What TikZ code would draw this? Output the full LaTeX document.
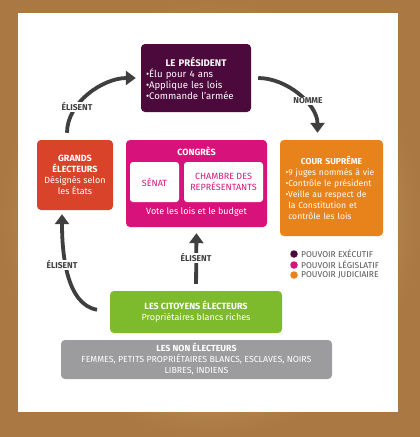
\documentclass[tikz,border=0pt]{standalone}
\usepackage{fontspec}
\setmainfont{Fira Sans}
\usetikzlibrary{arrows.meta}

\definecolor{parchlight}{RGB}{226,196,140}
\definecolor{parchdark}{RGB}{170,120,66}
\definecolor{presidentcol}{RGB}{75,10,59}
\definecolor{grandscol}{RGB}{216,67,42}
\definecolor{congrescol}{RGB}{215,19,123}
\definecolor{courcol}{RGB}{232,130,27}
\definecolor{citoyenscol}{RGB}{125,187,45}
\definecolor{noncol}{RGB}{156,156,158}
\definecolor{arrowcol}{RGB}{63,63,63}
\definecolor{legtxtcol}{RGB}{85,85,85}

\begin{document}
\begin{tikzpicture}[x=1pt,y=-1pt,
  box/.style={rounded corners=4pt, text=white, inner sep=0pt, align=center,
    font=\fontsize{9}{11}\selectfont},
  innerbox/.style={rounded corners=3pt, fill=white, text=congrescol, inner sep=0pt,
    align=center, font=\fontsize{9}{11}\selectfont},
  arr/.style={draw=arrowcol, line width=3.8pt, -{Triangle[width=14pt,length=10pt]}},
  lbl/.style={fill=white, text=arrowcol, inner sep=1pt,
    font=\fontsize{8.5}{9}\selectfont\bfseries},
  dot/.style={circle, fill=#1, minimum size=7.5pt, inner sep=0pt},
  legtxt/.style={anchor=west, text=legtxtcol, inner sep=1pt,
    font=\fontsize{8.5}{9}\selectfont}]
\useasboundingbox (0,0) rectangle (420,437);
%parchment and white sheet
\shade[inner color=parchlight, outer color=parchdark] (0,0) rectangle (420,437);
\fill[white] (18,13) rectangle (398,412);
%executive
\node[box, fill=presidentcol, minimum width=110pt, minimum height=68pt,
  text width=100pt, align=left, font=\fontsize{9.6}{11}\selectfont] (pres) at (196,78)
  {\centering\textbf{LE PRÉSIDENT}\par\raggedright
   •Élu pour 4 ans\\•Applique les lois\\•Commande l’armée};
\node[box, fill=grandscol, minimum width=76pt, minimum height=70pt] (grands) at (75,175)
  {\textbf{GRANDS}\\\textbf{ÉLECTEURS}\\Désignés selon\\les États};
%legislative
\node[box, fill=congrescol, minimum width=141pt, minimum height=87pt] (congres) at (196.5,183.5) {};
\node[box, font=\fontsize{9}{11}\selectfont\bfseries] (congrestitle) at (196.5,151) {CONGRÈS};
\node[innerbox, minimum width=49pt, minimum height=40pt] (senat) at (154.5,182) {SÉNAT};
\node[innerbox, minimum width=79pt, minimum height=40pt] (chambre) at (223.5,182)
  {CHAMBRE DES\\REPRÉSENTANTS};
\node[box] (vote) at (196.5,212) {Vote les lois et le budget};
%judiciary
\node[box, fill=courcol, minimum width=103pt, minimum height=96pt,
  text width=92pt, align=left, font=\fontsize{8.6}{11}\selectfont] (cour) at (331.5,188)
  {\centering\textbf{COUR SUPRÊME}\par\raggedright
   •9 juges nommés à vie\\•Contrôle le président\\•Veille au respect de\\
   \phantom{•}la Constitution et\\\phantom{•}contrôle les lois};
%voters
\node[box, fill=citoyenscol, minimum width=172pt, minimum height=42pt] (citoyens) at (196,312)
  {\textbf{LES CITOYENS ÉLECTEURS}\\Propriétaires blancs riches};
\node[box, fill=noncol, minimum width=271pt, minimum height=39pt,
  font=\fontsize{8.8}{11}\selectfont] (nonelect) at (196.5,359.5)
  {\textbf{LES NON ÉLECTEURS}\\FEMMES, PETITS PROPRIÉTAIRES BLANCS, ESCLAVES, NOIRS\\LIBRES, INDIENS};
%arrows
\draw[arr, shorten <=7pt, shorten >=5pt] ([xshift=-8pt]grands.north) to[out=90,in=180] (pres.west);
\draw[arr, shorten <=7pt, shorten >=7pt] (pres.east) to[out=0,in=90] ([xshift=-14pt]cour.north);
\draw[arr, shorten <=13pt, shorten >=4pt] (citoyens.west) to[out=170,in=-90] ([xshift=-13pt]grands.south);
\draw[arr, shorten <=7pt, shorten >=6pt] (citoyens.north) -- (congres.south);
%arrow labels
\node[lbl] (elisent1) at (77,107) {ÉLISENT};
\node[lbl] (nomme) at (308,101) {NOMME};
\node[lbl] (elisent2) at (62,265) {ÉLISENT};
\node[lbl] (elisent3) at (196,258) {ÉLISENT};
%legend
\node[dot=presidentcol] (lexec) at (294,254) {};
\node[dot=congrescol] (lleg) at (294,265) {};
\node[dot=courcol] (ljud) at (294,275) {};
\node[legtxt] (texec) at ([xshift=2pt]lexec.east) {POUVOIR EXÉCUTIF};
\node[legtxt] (tleg) at ([xshift=2pt]lleg.east) {POUVOIR LÉGISLATIF};
\node[legtxt] (tjud) at ([xshift=2pt]ljud.east) {POUVOIR JUDICIAIRE};
\end{tikzpicture}
\end{document}
